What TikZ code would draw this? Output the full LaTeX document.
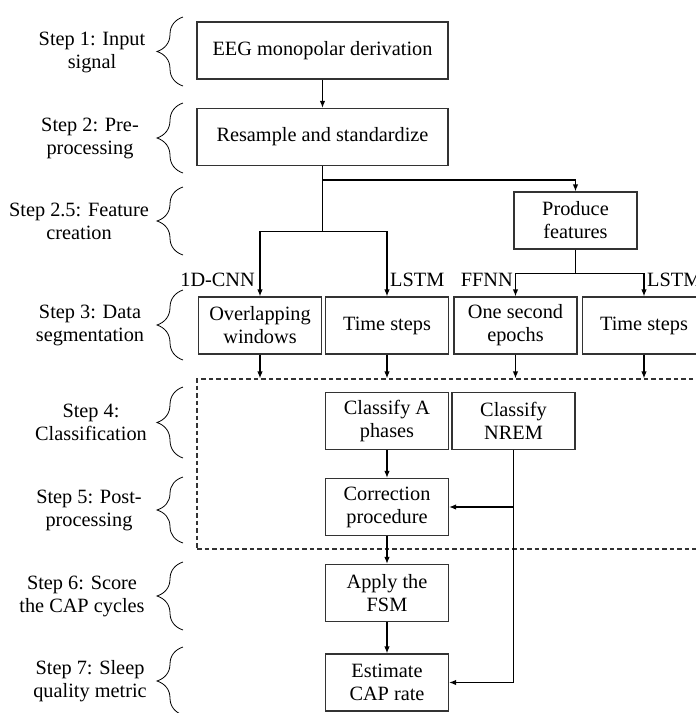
\documentclass[tikz,border=0pt]{standalone}
\usepackage{fontspec}
\setmainfont{Liberation Serif}
\usetikzlibrary{arrows.meta,positioning,decorations.pathreplacing}

\begin{document}
\begin{tikzpicture}[
      x=1pt,y=-1pt,
      font=\fontsize{20.3}{23}\selectfont,
      block/.style={draw=black!80,fill=white,line width=1.1pt,minimum width=123pt,minimum height=57pt,align=center,inner sep=2pt},
      wide/.style={block,minimum width=251pt},
      steplabel/.style={align=center,inner sep=0pt},
      tag/.style={inner sep=0pt},
      dashbox/.style={draw=black!80,line width=1.1pt,dash pattern=on 4.5pt off 3pt,minimum width=523pt,minimum height=170pt,inner sep=0pt},
      link/.style={line width=1.4pt},
      arrow/.style={-{Latex[length=7pt,width=5.5pt]},line width=1.4pt},
      brc/.style={decorate,decoration={brace,amplitude=26pt},line width=0.8pt}
    ]
      \useasboundingbox (0,0) rectangle (696,713);
      \clip (0,0) rectangle (696,713);

      \node[wide] (eeg) at (322.5,50.5) {EEG monopolar derivation};
      \node[wide] (res) at (322.5,137) {Resample and standardize};
      \node[block] (prod) at (575.5,220.5) {Produce\\features};
      \node[block] (ovl) at (260,325.5) {Overlapping\\windows};
      \node[block] (ts1) at (387,325.5) {Time steps};
      \node[block] (ose) at (515.5,325.5) {One second\\epochs};
      \node[block] (ts2) at (644,325.5) {Time steps};
      \node[dashbox] (cls) at (458.5,464) {};
      \node[block] (cla) at (387,421) {Classify A\\phases};
      \node[block] (nrem) at (513.5,421) {Classify\\NREM};
      \node[block] (cor) at (387,507) {Correction\\procedure};
      \node[block] (fsm) at (387,593) {Apply the\\FSM};
      \node[block] (est) at (387,682.5) {Estimate\\CAP rate};

      \node[tag,anchor=base east] (cnn) at (255,286) {1D-CNN};
      \node[tag,anchor=base west] (lstma) at (390,286) {LSTM};
      \node[tag,anchor=base east] (ffnn) at (513,286) {FFNN};
      \node[tag,anchor=base west] (lstmb) at (647,286) {LSTM};

      \coordinate (fork) at (322.5,180);
      \coordinate (split) at (322.5,231.7);
      \coordinate (psplit) at (575.5,273.3);

      \draw[arrow] (eeg) -- (res);
      \draw[link] (res) -- (split);
      \draw[arrow] (split) -| (ovl);
      \draw[arrow] (split) -| (ts1);
      \draw[arrow] (fork) -| (prod);
      \draw[link] (prod) -- (psplit);
      \draw[arrow] (psplit) -| (ose);
      \draw[arrow] (psplit) -| (ts2);
      \draw[arrow] (ovl) -- (ovl |- cls.north);
      \draw[arrow] (ts1) -- (ts1 |- cls.north);
      \draw[arrow] (ose) -- (ose |- cls.north);
      \draw[arrow] (ts2) -- (ts2 |- cls.north);
      \draw[arrow] (cla) -- (cor);
      \draw[arrow] (nrem) |- (cor);
      \draw[arrow] (nrem) |- (est);
      \draw[arrow] (cor) -- (fsm);
      \draw[arrow] (fsm) -- (est);

      \node[steplabel] (s1) at (92,52) {Step 1: Input\\signal};
      \node[steplabel] (s2) at (90,138) {Step 2: Pre-\\processing};
      \node[steplabel] (s25) at (79,221) {Step 2.5: Feature\\creation};
      \node[steplabel] (s3) at (90,325) {Step 3: Data\\segmentation};
      \node[steplabel] (s4) at (91,422) {Step 4:\\Classification};
      \node[steplabel] (s5) at (89,510) {Step 5: Post-\\processing};
      \node[steplabel] (s6) at (82,596) {Step 6: Score\\the CAP cycles};
      \node[steplabel] (s7) at (90,681) {Step 7: Sleep\\quality metric};

      \draw[brc] (183,86) -- (183,17);
      \draw[brc] (183,173) -- (183,103);
      \draw[brc] (183,255) -- (183,187);
      \draw[brc] (183,360) -- (183,290);
      \draw[brc] (183,458) -- (183,387);
      \draw[brc] (183,543) -- (183,477);
      \draw[brc] (183,630) -- (183,562);
      \draw[brc] (183,715) -- (183,647);
    \end{tikzpicture}
\end{document}
